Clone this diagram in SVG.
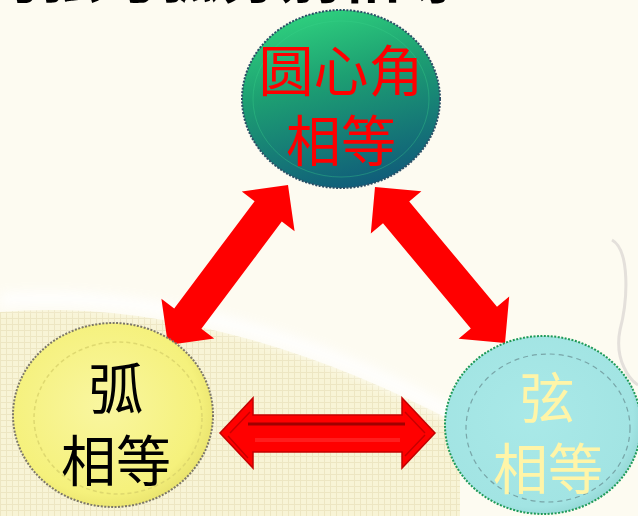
<svg xmlns="http://www.w3.org/2000/svg" width="638" height="516" viewBox="0 0 638 516">
  <defs>
    <pattern id="grid" width="6" height="6" patternUnits="userSpaceOnUse">
      <rect width="6" height="6" fill="#f8f4d6"/>
      <path d="M0 0.5H6M0.5 0V6" stroke="#ede6c2" stroke-width="1"/>
    </pattern>
    <linearGradient id="gTop" x1="0.3" y1="0" x2="0.6" y2="1">
      <stop offset="0" stop-color="#2fd27e"/>
      <stop offset="0.4" stop-color="#1d9f72"/>
      <stop offset="1" stop-color="#105c7a"/>
    </linearGradient>
    <radialGradient id="gYel" cx="0.45" cy="0.45" r="0.6">
      <stop offset="0" stop-color="#f9f6a0"/>
      <stop offset="0.8" stop-color="#f5f17c"/>
      <stop offset="1" stop-color="#e6df6a"/>
    </radialGradient>
    <radialGradient id="gCyan" cx="0.45" cy="0.45" r="0.6">
      <stop offset="0" stop-color="#a9e9e8"/>
      <stop offset="0.85" stop-color="#a2e4e3"/>
      <stop offset="1" stop-color="#8fd2d0"/>
    </radialGradient>
    <filter id="blur" x="-20%" y="-50%" width="140%" height="200%">
      <feGaussianBlur stdDeviation="6"/>
    </filter>
    <style>
      .cjk { font-family: "Noto Sans CJK SC", "Noto Sans CJK TC", sans-serif; text-anchor: middle; }
      .lbl { font-size: 55px; }
      .arrow { fill: #ff0000; }
    </style>
  </defs>

  <!-- background -->
  <rect width="638" height="516" fill="#fdfbf1"/>
  <path d="M0 312 C 140 300 300 340 460 425 L 460 516 L 0 516 Z" fill="url(#grid)"/>
  <path d="M0 300 C 140 290 300 330 460 418" fill="none" stroke="#ffffff" stroke-width="14" filter="url(#blur)" opacity="0.9"/>
  <path d="M612 240 C 630 250 628 300 620 330 C 614 360 630 380 638 385" fill="none" stroke="#d8d4d2" stroke-width="3" opacity="0.7"/>

  <!-- cut-off heading -->
  <text x="520" y="-2" font-family="Noto Sans CJK SC, sans-serif" font-weight="bold" font-size="60" text-anchor="end" fill="#000">的弦与弧分别相等：</text>

  <!-- connectors -->
  <g id="connectors">
    <polygon class="arrow" points="288,185 294.6,231.2 281.8,221.6 201.4,328.8 214.2,338.4 168,345 161.4,298.8 174.2,308.4 254.6,201.2 241.8,191.6"/>
    <polygon class="arrow" points="375,187 421.4,191.2 409.2,201.4 497,306.8 509.2,296.6 505,343 458.6,338.8 470.8,328.6 383,223.2 370.8,233.4"/>
    <g id="arrow-h">
      <polygon class="arrow" points="220,433 253,398 253,415 402,415 402,398 435,433 402,468 402,452 253,452 253,468" stroke="#c40000" stroke-width="1.5" stroke-linejoin="miter"/>
      <path d="M248 424 H405" stroke="#a00000" stroke-width="3" fill="none"/>
      <path d="M230 433 L250 412 M228 436 L248 458 M425 433 L405 412 M425 435 L405 456" stroke="#c80000" stroke-width="1.5" fill="none"/>
      <path d="M255 440 H400" stroke="#ff3030" stroke-width="4" fill="none" opacity="0.6"/>
    </g>
  </g>

  <!-- nodes -->
  <g id="node-angle">
    <ellipse cx="341" cy="99" rx="99" ry="89" fill="url(#gTop)" stroke="#2b4f66" stroke-width="2" stroke-dasharray="2 1.5"/>
    <ellipse cx="341" cy="99" rx="88" ry="78" fill="none" stroke="#3ad08a" stroke-width="1" opacity="0.35"/>
    <text class="cjk lbl" x="341" y="91" fill="#ff0000">圆心角</text>
    <text class="cjk lbl" x="341" y="161" fill="#ff0000">相等</text>
  </g>

  <g id="node-arc">
    <ellipse cx="113" cy="415" rx="100" ry="92" fill="url(#gYel)" stroke="#7d7868" stroke-width="2" stroke-dasharray="2 1.5"/>
    <ellipse cx="118" cy="418" rx="84" ry="76" fill="none" stroke="#d8d26a" stroke-width="1.5" stroke-dasharray="4 3" opacity="0.8"/>
    <text class="cjk lbl" x="116" y="409" fill="#000000">弧</text>
    <text class="cjk lbl" x="116" y="481" fill="#000000">相等</text>
  </g>

  <g id="node-chord">
    <ellipse cx="543" cy="425" rx="98" ry="89" fill="url(#gCyan)" stroke="#1f9a58" stroke-width="2" stroke-dasharray="2 1.5"/>
    <ellipse cx="548" cy="428" rx="82" ry="74" fill="none" stroke="#5b7b80" stroke-width="1.2" stroke-dasharray="5 4" opacity="0.6"/>
    <text class="cjk lbl" x="547" y="418" fill="#fff5a8">弦</text>
    <text class="cjk lbl" x="548" y="489" fill="#fff5a8">相等</text>
  </g>
</svg>
